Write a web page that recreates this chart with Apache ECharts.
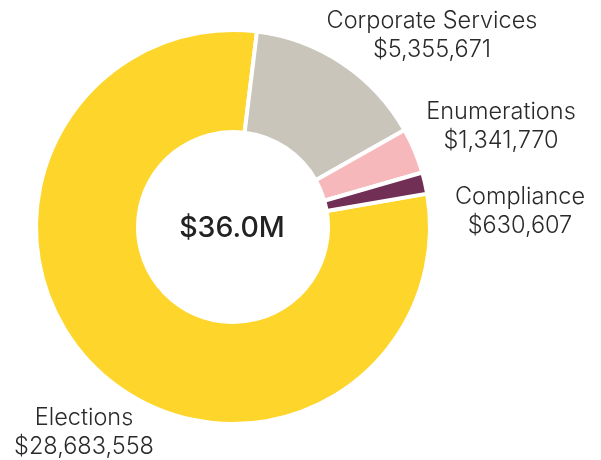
<!DOCTYPE html>
<html><head><meta charset="utf-8">
<script src="https://cdn.jsdelivr.net/npm/echarts@6/dist/echarts.min.js"></script>
<style>html,body{margin:0;padding:0;background:#fff}#c{width:601px;height:460px}</style>
</head><body><div id="c"></div>
<script>
const categories = ['Elections', 'Corporate Services', 'Enumerations', 'Compliance'];
const values = [28683558, 5355671, 1341770, 630607];
const colors = ['#FED52B', '#C9C5BA', '#F7B8BB', '#722F55'];
const labelPos = [[84, 432], [432, 35], [501, 126], [520, 211]];

const total = values.reduce((a, b) => a + b, 0);
const fmt = v => '$' + v.toLocaleString('en-US');
const chart = echarts.init(document.getElementById('c'));
chart.setOption({
  animation: false,
  textStyle: { fontFamily: 'Inter' },
  graphic: [{
    type: 'text',
    style: {
      text: '$' + (total / 1e6).toFixed(1) + 'M',
      x: 232, y: 228, align: 'center', verticalAlign: 'middle',
      font: '500 28.5px Inter', fill: '#222'
    }
  }],
  series: [{
    type: 'pie',
    center: [233, 227],
    radius: [95, 197],
    startAngle: 9.75,
    clockwise: true,
    itemStyle: { borderColor: '#fff', borderWidth: 4 },
    label: {
      show: true,
      formatter: p => p.name + '\n' + fmt(p.value),
      fontFamily: 'Inter', fontSize: 23.5, fontWeight: 300, color: '#2a2a2a',
      lineHeight: 29, align: 'center', overflow: 'none', width: 300
    },
    labelLine: { show: false },
    labelLayout: p => ({ x: labelPos[p.dataIndex][0], y: labelPos[p.dataIndex][1], align: 'center', verticalAlign: 'middle', hideOverlap: false }),
    data: categories.map((n, i) => ({ name: n, value: values[i], itemStyle: { color: colors[i] } }))
  }]
});
</script></body></html>
